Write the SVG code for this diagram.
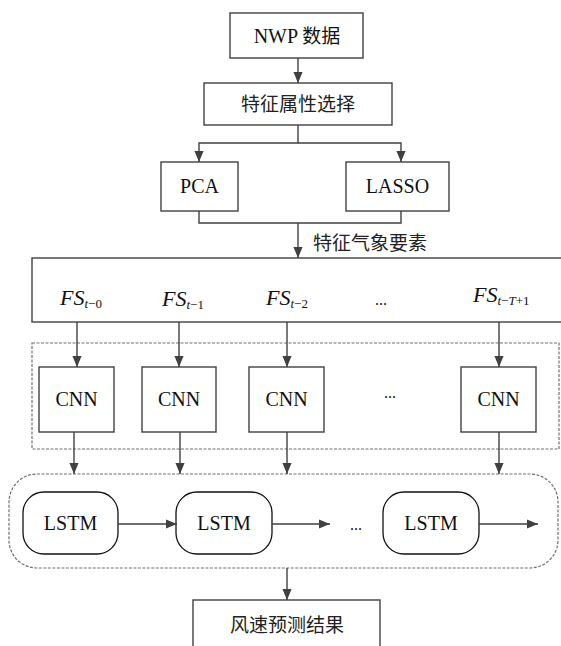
<svg xmlns="http://www.w3.org/2000/svg" width="561" height="646" viewBox="0 0 561 646">
<style>
.box{fill:#fff;stroke:#404040;stroke-width:1.4}
.lstm{fill:#fff;stroke:#111;stroke-width:1.3}
.dash{fill:none;stroke:#707070;stroke-width:1.2;stroke-dasharray:3 1.5}
.ln{fill:none;stroke:#404040;stroke-width:1.4}
.t{font-family:"Liberation Serif",serif;font-size:20px;fill:#111;text-anchor:middle}
.c{font-size:19px;fill:#222;text-anchor:middle;font-family:"Noto Sans CJK SC",sans-serif}
.cj{font-size:19px;font-family:"Noto Sans CJK SC",sans-serif}
.fs{font-family:"Liberation Serif",serif;font-size:22px;font-style:italic;fill:#111}
.sub{font-size:13px}
.up{font-style:normal}
</style>
<defs>
<marker id="ah2" markerWidth="11" markerHeight="12" viewBox="0 0 12 10" refX="12" refY="5" orient="auto" markerUnits="userSpaceOnUse">
<path d="M0,0 L12,5 L0,10 z" fill="#404040"/>
</marker>
</defs>

<g id="group-cnn">
<rect class="dash" x="32" y="343" width="527" height="106"/>
</g>
<g id="group-lstm">
<rect class="dash" x="9" y="474" width="549" height="94" rx="28" ry="28"/>
</g>

<g id="nwp"><rect class="box" x="230" y="13" width="133" height="45"/><text class="t" x="297" y="43">NWP <tspan class="cj">数据</tspan></text></g>
<g id="select"><rect class="box" x="204" y="83" width="188" height="42"/><text class="c" x="298" y="111">特征属性选择</text></g>
<g id="pca"><rect class="box" x="161" y="162" width="77" height="49"/><text class="t" x="199.5" y="193">PCA</text></g>
<g id="lasso"><rect class="box" x="346" y="162" width="103" height="49"/><text class="t" x="397.5" y="193">LASSO</text></g>
<g id="features-label"><text class="c" x="370" y="250">特征气象要素</text></g>
<g id="fs-box">
<rect class="box" x="32" y="258" width="531" height="64"/>
<text class="fs" x="60" y="305">FS<tspan class="sub" dy="3">t<tspan class="up">−0</tspan></tspan></text>
<text class="fs" x="162" y="306">FS<tspan class="sub" dy="3">t<tspan class="up">−1</tspan></tspan></text>
<text class="fs" x="266" y="305">FS<tspan class="sub" dy="3">t<tspan class="up">−2</tspan></tspan></text>
<text class="t" x="381" y="305" style="font-size:16px">...</text>
<text class="fs" x="473" y="302">FS<tspan class="sub" dy="3">t<tspan class="up">−</tspan>T<tspan class="up">+1</tspan></tspan></text>
</g>
<g id="cnn1"><rect class="box" x="39" y="367" width="75" height="65"/><text class="t" x="76.5" y="406">CNN</text></g>
<g id="cnn2"><rect class="box" x="142" y="367" width="74" height="65"/><text class="t" x="179" y="406">CNN</text></g>
<g id="cnn3"><rect class="box" x="249" y="367" width="75" height="65"/><text class="t" x="286.5" y="406">CNN</text></g>
<g id="cnn-dots"><text class="t" x="390" y="398" style="font-size:16px">...</text></g>
<g id="cnn4"><rect class="box" x="461" y="367" width="75" height="65"/><text class="t" x="498.5" y="406">CNN</text></g>
<g id="lstm1"><rect class="lstm" x="23" y="492" width="95" height="62" rx="21" ry="21"/><text class="t" x="70.5" y="530">LSTM</text></g>
<g id="lstm2"><rect class="lstm" x="176" y="492" width="96" height="62" rx="21" ry="21"/><text class="t" x="224" y="530">LSTM</text></g>
<g id="lstm-dots"><text class="t" x="356" y="530" style="font-size:16px">...</text></g>
<g id="lstm3"><rect class="lstm" x="383" y="492" width="96" height="62" rx="21" ry="21"/><text class="t" x="431" y="530">LSTM</text></g>
<g id="result"><rect class="box" x="193" y="600" width="187" height="50"/><text class="c" x="287" y="632">风速预测结果</text></g>

<g id="connectors">
<path class="ln" d="M298,58 V83" marker-end="url(#ah2)"/>
<path class="ln" d="M298,125 V143 H199 V162" marker-end="url(#ah2)"/>
<path class="ln" d="M298,143 H401 V162" marker-end="url(#ah2)"/>
<path class="ln" d="M199,211 V223 H401 V211"/>
<path class="ln" d="M298,223 V258" marker-end="url(#ah2)"/>
<path class="ln" d="M77,322 V367" marker-end="url(#ah2)"/>
<path class="ln" d="M179,322 V367" marker-end="url(#ah2)"/>
<path class="ln" d="M287,322 V367" marker-end="url(#ah2)"/>
<path class="ln" d="M499,322 V367" marker-end="url(#ah2)"/>
<path class="ln" d="M74,432 V474" marker-end="url(#ah2)"/>
<path class="ln" d="M180,432 V474" marker-end="url(#ah2)"/>
<path class="ln" d="M287,432 V474" marker-end="url(#ah2)"/>
<path class="ln" d="M499,432 V474" marker-end="url(#ah2)"/>
<path class="ln" d="M118,524 H177" marker-end="url(#ah2)"/>
<path class="ln" d="M272,524 H330" marker-end="url(#ah2)"/>
<path class="ln" d="M479,524 H538" marker-end="url(#ah2)"/>
<path class="ln" d="M287,568 V600" marker-end="url(#ah2)"/>
</g>
</svg>
